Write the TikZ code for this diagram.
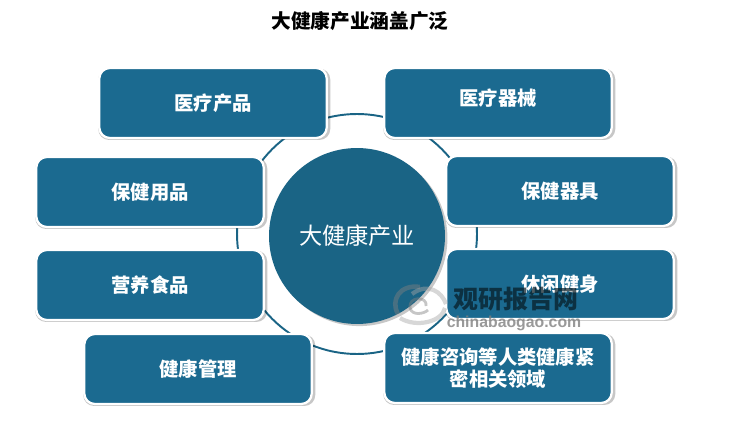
\documentclass[tikz,border=0pt]{standalone}
\usepackage{fontspec}
\setmainfont{Noto Sans CJK SC}
\newfontfamily\latinfont{Liberation Sans}
\usetikzlibrary{shadows}
\definecolor{hubblue}{HTML}{1A6485}
\definecolor{boxblue}{HTML}{1B6A90}
\tikzset{
  softshadow/.style={general shadow={shadow scale=1.02, shadow xshift=0.7pt, shadow yshift=-0.7pt, fill=black, opacity=0.22}},
  itembox/.style={draw=white, line width=1.3pt, fill=boxblue, rounded corners=6pt, minimum width=4.55cm, minimum height=1.4cm,
    text=white, align=center, inner sep=1pt, font=\fontsize{11}{12.4}\selectfont\bfseries, softshadow},
}
\begin{document}
\begin{tikzpicture}[x=0.02cm, y=-0.02cm]
      \useasboundingbox (0,0) rectangle (750,422);
      \node[font=\fontsize{11.2}{13}\selectfont\bfseries] (title) at (360,21) {大健康产业涵盖广泛};
      \node[draw=hubblue, line width=1.1pt, circle, minimum size=4.8cm, inner sep=0pt] (ring) at (357,234) {};
      \node[circle, fill=hubblue, minimum size=3.52cm, inner sep=0pt, text=white, font=\fontsize{13.2}{15}\selectfont,
        drop shadow={shadow xshift=1.4pt, shadow yshift=-1.2pt, fill=black, opacity=0.22}] (hub) at (357,236) {大健康产业};
      \foreach \nm/\cx/\cy/\txt in {medprod/213/103/医疗产品, health/150/192/保健用品, food/150/285/营养食品,
        manage/198/369/健康管理, device/498/103/\raisebox{7pt}{医疗器械}, care/560/191/保健器具, fitness/560/284/休闲健身} {
        \node[itembox] (\nm) at (\cx,\cy) {\txt};
      }
      \node[itembox] (consult) at (498,368) {健康咨询等人类健康紧\\密相关领域};
      % watermark
      \begin{scope}[opacity=0.45]
        \draw[gray, line width=2.6pt] (420,287) .. controls (400,284) and (390,300) .. (398,314);
        \draw[gray!70, line width=2.4pt] (412,294) .. controls (428,282) and (442,292) .. (446,304);
        \draw[gray!70, line width=2.4pt] (400,318) .. controls (416,328) and (442,322) .. (445,308);
        \draw[gray, line width=1.6pt] (426,306) .. controls (428,296) and (408,296) .. (410,308) .. controls (412,316) and (424,314) .. (428,310);
      \end{scope}
      \node[opacity=0.7, text=black!75!hubblue, font=\fontsize{14.2}{16}\selectfont\bfseries, inner sep=0pt] (markcn) at (516,299) {观研报告网};
      \node[opacity=0.8, text=gray, font=\latinfont\fontsize{9}{11}\selectfont\bfseries, inner sep=0pt] (markurl) at (514,323) {chinabaogao.com};
\end{tikzpicture}
\end{document}
